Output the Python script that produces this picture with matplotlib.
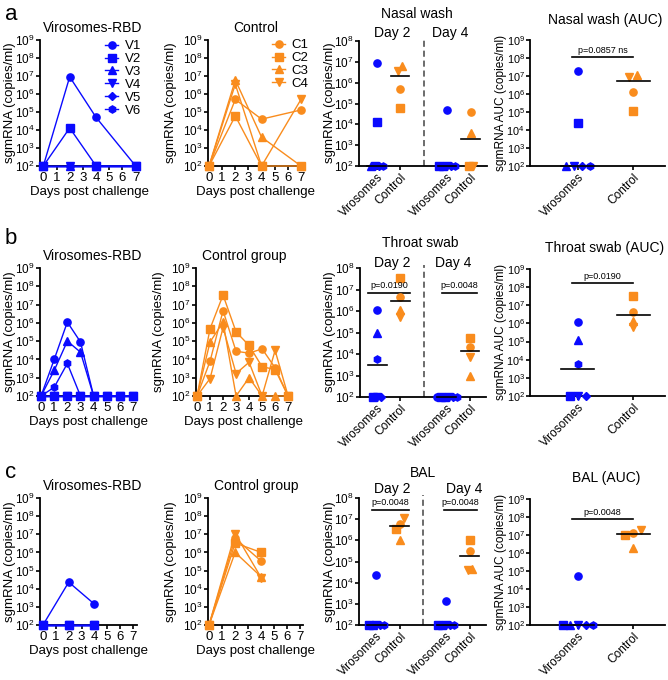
import numpy as np
import matplotlib
matplotlib.use('Agg')
import matplotlib.pyplot as plt
from matplotlib.ticker import NullLocator

plt.rcParams['font.family'] = ['Liberation Sans', 'DejaVu Sans']
plt.rcParams['mathtext.fontset'] = 'custom'
plt.rcParams['mathtext.rm'] = 'Liberation Sans'
plt.rcParams['mathtext.it'] = 'Liberation Sans:italic'
plt.rcParams['mathtext.bf'] = 'Liberation Sans:bold'

W, H = 668, 680
BLUE = '#0a0aff'
ORANGE = '#f98c1d'
FS = 9.5

viro_names = ['V1', 'V2', 'V3', 'V4', 'V5', 'V6']
ctrl_names = ['C1', 'C2', 'C3', 'C4']
group_names = ['Virosomes', 'Control']

# nasal wash (row a)
nw_days = [0, 2, 4, 7]
nw_viro = [[1e2, 9e6, 5e4, 1e2],
           [1e2, 1.3e4, 1e2, 1e2],
           [1e2, 1e2, 1e2, 1e2],
           [1e2, 1e2, 1e2, 1e2],
           [1e2, 1e2, 1e2, 1e2],
           [1e2, 1e2, 1e2, 1e2]]
nw_ctrl = [[1e2, 5e5, 4e4, 1.3e5],
           [1e2, 6e4, 1e2, 1e2],
           [1e2, 6e6, 4e3, 1e2],
           [1e2, 3.5e6, 1e2, 5e5]]
nw_auc_viro = [2e7, 2.5e4, 1e2, 1e2, 1e2, 1e2]
nw_auc_ctrl = [1.3e6, 1.2e5, 1.2e7, 9e6]

# throat swab (row b)
ts_days = [0, 1, 2, 3, 4, 5, 6, 7]
ts_viro = [[1e2, 1e4, 1.1e6, 9e4, 1e2, 1e2, 1e2, 1e2],
           [1e2, 1e2, 1e2, 1e2, 1e2, 1e2, 1e2, 1e2],
           [1e2, 2.5e3, 1e5, 2.5e4, 1e2, 1e2, 1e2, 1e2],
           [1e2, 1e2, 1e2, 1e2, 1e2, 1e2, 1e2, 1e2],
           [1e2, 1e2, 1e2, 1e2, 1e2, 1e2, 1e2, 1e2],
           [1e2, 3e2, 6e3, 1e2, 1e2, 1e2, 1e2, 1e2]]
ts_ctrl = [[1e2, 8e3, 4.6e6, 2.8e4, 2.2e4, 3.8e4, 3.5e3, 1e2],
           [1e2, 4.8e5, 3.3e7, 3.2e5, 5.8e4, 4e3, 2.8e3, 1e2],
           [1e2, 9e4, 1.1e6, 1e2, 1e3, 1e2, 1e2, 1e2],
           [1e2, 9e2, 5.5e5, 1.7e3, 7e3, 1e2, 3.1e4, 1e2]]
ts_auc_viro = [1.2e6, 1e2, 1.2e5, 1e2, 1e2, 6e3]
ts_auc_ctrl = [4.5e6, 3.3e7, 1.3e6, 6e5]

# BAL (row c)
bal_days = [0, 2, 4]
bal_viro = [[1e2, 2.3e4, 1.4e3],
            [1e2, 1e2, 1e2],
            [1e2, 1e2, 1e2],
            [1e2, 1e2, 1e2],
            [1e2, 1e2, 1e2],
            [1e2, 1e2, 1e2]]
bal_ctrl = [[1e2, 6e6, 3.3e5],
            [1e2, 3.3e6, 1e6],
            [1e2, 1e6, 4.5e4],
            [1e2, 1.1e7, 4e4]]
bal_auc_viro = [5e4, 1e2, 1e2, 1e2, 1e2, 1e2]
bal_auc_ctrl = [1.3e7, 1e7, 2e6, 2e7]

viro_markers = ['o', 's', '^', 'v', 'D', 'h']
ctrl_markers = ['o', 's', '^', 'v']


def msz(m):
    return 3.9 if m == 'D' else 5.2


def box(x0, x1, ytop, ybot):
    return [x0 / W, 1 - ybot / H, (x1 - x0) / W, (ybot - ytop) / H]


def ftext(x, y, s, **kw):
    fig.text(x / W, 1 - y / H, s, ha='center', va='center', **kw)


def style(ax, top, ysize=8.5):
    ax.set_yscale('log')
    ax.set_ylim(1e2, 10.0 ** top)
    ax.set_yticks([10.0 ** k for k in range(2, top + 1)])
    ax.yaxis.set_minor_locator(NullLocator())
    for s in ['top', 'right']:
        ax.spines[s].set_visible(False)
    for s in ['left', 'bottom']:
        ax.spines[s].set_linewidth(1.3)
    ax.tick_params(direction='out', length=3, width=1.2, labelsize=FS, pad=1)
    ax.tick_params(axis='y', labelsize=ysize, pad=0.8)


def spread(vals, step, thr=0.3):
    lv = np.log10(vals)
    order = np.argsort(lv, kind='stable')
    offs = np.zeros(len(vals))
    clusters = [[order[0]]]
    for i in order[1:]:
        if lv[i] - lv[clusters[-1][-1]] < thr:
            clusters[-1].append(i)
        else:
            clusters.append([i])
    for c in clusters:
        for k, i in enumerate(c):
            offs[i] = (k - (len(c) - 1) / 2) * step
    return offs


def dots(ax, x, vals, markers, color, step, hw):
    offs = spread(vals, step)
    for v, m, o in zip(vals, markers, offs):
        ax.plot(x + o, v, marker=m, color=color, ms=msz(m), ls='none',
                clip_on=False, zorder=3)
    med = np.median(vals)
    ax.plot([x - hw, x + hw], [med, med], color='k', lw=1.2, zorder=4,
            clip_on=False)


def sig(ax, x0, x1, y, txt):
    ax.plot([x0, x1], [y, y], color='k', lw=1.2, clip_on=False)
    ax.text((x0 + x1) / 2, y * 1.35, txt, ha='center', va='bottom', fontsize=6.5)


def course(ax, days, series, markers, color, xlim, labels=None):
    for i, vals in enumerate(series):
        ax.plot(days, vals, marker=markers[i], color=color, lw=1, ms=msz(markers[i]),
                clip_on=False, zorder=3, label=None if labels is None else labels[i])
    style(ax, 9)
    ax.set_xlim(*xlim)
    ax.set_xticks(range(8))


def cat_labels(ax, names):
    ax.set_xticklabels(names, rotation=45, ha='right', rotation_mode='anchor',
                       fontsize=8.6)


def day_panel(ax, days, viro, ctrl, step, sigs=None):
    d2, d4 = days.index(2), days.index(4)
    dots(ax, 1, [v[d2] for v in viro], viro_markers, BLUE, step, 0.4)
    dots(ax, 2, [v[d2] for v in ctrl], ctrl_markers, ORANGE, step, 0.4)
    dots(ax, 4, [v[d4] for v in viro], viro_markers, BLUE, step, 0.4)
    dots(ax, 5, [v[d4] for v in ctrl], ctrl_markers, ORANGE, step, 0.4)
    style(ax, 8)
    ax.set_xlim(0.25, 5.7)
    ax.axvline(3, ymin=0, ymax=1.02, color='#444444', lw=1.1, ls=(0, (4, 2.5)),
               clip_on=False)
    ax.set_xticks([1, 2, 4, 5])
    cat_labels(ax, group_names + group_names)
    if sigs:
        for (x0, x1, y, t) in sigs:
            sig(ax, x0, x1, y, t)


def auc_panel(ax, viro, ctrl, sigtxt, sigy):
    dots(ax, 1, viro, viro_markers, BLUE, 0.14, 0.3)
    dots(ax, 2, ctrl, ctrl_markers, ORANGE, 0.14, 0.3)
    style(ax, 9, ysize=7.8)
    ax.set_xlim(0.13, 2.58)
    ax.set_xticks([1, 2])
    cat_labels(ax, group_names)
    sig(ax, 0.9, 2.0, sigy, sigtxt)


fig = plt.figure(figsize=(W / 100, H / 100), dpi=100)

rows = [(40, 166), (268, 396), (498, 625)]
col1 = [(40, 139, (-0.25, 7.25)), (40, 137, (-0.08, 7.3)), (40, 137, (-0.23, 7.3))]
col2 = [(208, 304, (-0.08, 7.23)), (196, 292, (-0.08, 7.3)), (208, 303, (-0.08, 7.2))]
courses = [(nw_days, nw_viro, nw_ctrl), (ts_days, ts_viro, ts_ctrl),
           (bal_days, bal_viro, bal_ctrl)]
c2_titles = ['Control', 'Control group', 'Control group']
ylab = 'sgmRNA (copies/ml)'

for r in range(3):
    yt, yb = rows[r]
    ym = (yt + yb) / 2
    days, viro, ctrl = courses[r]
    a1 = fig.add_axes(box(col1[r][0], col1[r][1], yt, yb))
    course(a1, days, viro, viro_markers, BLUE, col1[r][2],
           viro_names if r == 0 else None)
    a2 = fig.add_axes(box(col2[r][0], col2[r][1], yt, yb))
    course(a2, days, ctrl, ctrl_markers, ORANGE, col2[r][2],
           ctrl_names if r == 0 else None)
    for ax in (a1, a2):
        ax.set_xlabel('Days post challenge', fontsize=FS, labelpad=2)
    ftext(10, ym, ylab, fontsize=FS, rotation=90)
    ftext(col2[r][0] - 37, ym, ylab, fontsize=FS, rotation=90)
    ftext(330, ym, ylab, fontsize=FS, rotation=90)
    ftext(501, ym, 'sgmRNA AUC (copies/ml)', fontsize=8.6, rotation=90)
    if r == 0:
        a1.legend(loc='upper left', bbox_to_anchor=(105 / W, 1 - 40 / H),
                  bbox_transform=fig.transFigure, frameon=False, fontsize=FS,
                  handlelength=1.0, handletextpad=0.5, borderpad=0,
                  labelspacing=0.05, borderaxespad=0)
        a2.legend(loc='upper left', bbox_to_anchor=(272 / W, 1 - 39 / H),
                  bbox_transform=fig.transFigure, frameon=False, fontsize=FS,
                  handlelength=1.0, handletextpad=0.5, borderpad=0,
                  labelspacing=0.05, borderaxespad=0)
    ftext(93, yt - 12, 'Virosomes-RBD', fontsize=FS + 0.5)
    ftext(col2[r][0] + 48, yt - 12, c2_titles[r], fontsize=FS + 0.5)

# column 3: day 2 / day 4
a = fig.add_axes(box(359, 487, 41, 166))
day_panel(a, nw_days, nw_viro, nw_ctrl, 0.17)
b = fig.add_axes(box(360, 486, 268, 397))
day_panel(b, ts_days, ts_viro, ts_ctrl, 0.17,
          [(0.6, 2.4, 7e6, 'p=0.0190'), (3.8, 5.3, 7e6, 'p=0.0048')])
c = fig.add_axes(box(359, 486, 498, 625))
day_panel(c, bal_days, bal_viro, bal_ctrl, 0.17,
          [(0.8, 2.4, 2.7e7, 'p=0.0048'), (3.9, 5.3, 2.7e7, 'p=0.0048')])

ftext(417, 14, 'Nasal wash', fontsize=FS + 0.5)
ftext(392, 33, 'Day 2', fontsize=FS + 0.5)
ftext(450, 33, 'Day 4', fontsize=FS + 0.5)
ftext(420, 243, 'Throat swab', fontsize=FS + 0.5)
ftext(392, 263, 'Day 2', fontsize=FS + 0.5)
ftext(453, 263, 'Day 4', fontsize=FS + 0.5)
ftext(423, 473, 'BAL', fontsize=FS + 0.5)
ftext(392, 489, 'Day 2', fontsize=FS + 0.5)
ftext(464, 489, 'Day 4', fontsize=FS + 0.5)

# column 4: AUC
a = fig.add_axes(box(530, 665, 40, 166))
auc_panel(a, nw_auc_viro, nw_auc_ctrl, 'p=0.0857 ns', 1.15e8)
b = fig.add_axes(box(530, 665, 269, 396))
auc_panel(b, ts_auc_viro, ts_auc_ctrl, 'p=0.0190', 1.6e8)
c = fig.add_axes(box(530, 665, 499, 625))
auc_panel(c, bal_auc_viro, bal_auc_ctrl, 'p=0.0048', 7.5e7)

ftext(605, 20, 'Nasal wash (AUC)', fontsize=FS + 0.5)
ftext(605, 248, 'Throat swab (AUC)', fontsize=FS + 0.5)
ftext(606, 478, 'BAL (AUC)', fontsize=FS + 0.5)

ftext(11, 15, 'a', fontsize=16)
ftext(11, 238, 'b', fontsize=16)
ftext(11, 473, 'c', fontsize=16)

fig.savefig('out.png', dpi=100)
